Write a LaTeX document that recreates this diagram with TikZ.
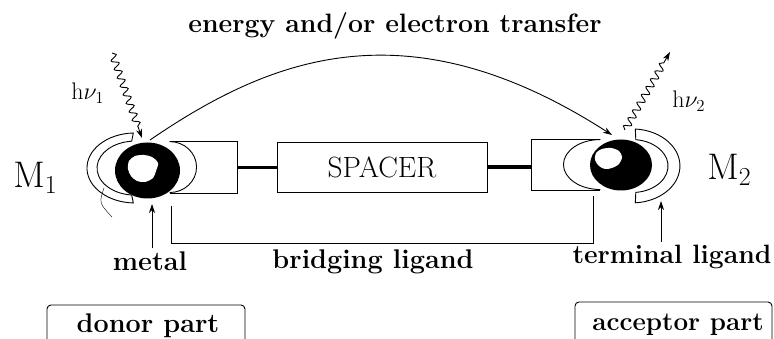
\RequirePackage{fix-cm}
\documentclass[tikz,border=0pt]{standalone}
\usepackage{amsmath,amssymb}
\usepackage{tikz}
\usetikzlibrary{arrows.meta,decorations.pathmorphing}

\tikzset{
  lbl/.style={font=\fontsize{27}{30}\selectfont\bfseries},
  wave/.style={->,decorate,decoration={snake,amplitude=3.5pt,segment length=9pt,post length=9pt}},
  band/.style={draw,fill=white,line width=0.9pt},
}

\begin{document}
\begin{tikzpicture}[x=1pt,y=-1pt,line width=0.9pt,>={Stealth[length=9pt,width=6pt]}]
\useasboundingbox (0,0) rectangle (774,339);
\node[lbl,anchor=base,font=\fontsize{26.6}{30}\selectfont\bfseries] (title) at (395,33) {energy and/or electron transfer};
\node[draw,minimum width=210pt,minimum height=50pt,font=\fontsize{29.3}{32}\selectfont] (spacer) at (382,167) {SPACER};
\node[minimum width=67pt,minimum height=51pt,inner sep=0] (ligL) at (203.5,167.5) {};
\node[minimum width=68pt,minimum height=50pt,inner sep=0] (ligR) at (566,165) {};
\draw (ligL.north west) -- (ligL.north east) -- (ligL.south east) -- (ligL.south west);
\draw (ligL.north west) arc[start angle=90,end angle=-90,x radius=27pt,y radius=25.5pt];
\draw (ligR.north east) -- (ligR.north west) -- (ligR.south west) -- (ligR.south east);
\draw (ligR.north east) arc[start angle=90,end angle=270,x radius=37pt,y radius=25pt];
\draw[line width=3.5pt] (ligL.east) -- (ligL.east -| spacer.west);
\draw[line width=3.5pt] (spacer.east) -- (spacer.east -| ligR.west);
\coordinate (m1) at (147.5,170.5);
\coordinate (m2) at (621,165);
\fill (m1) ellipse[x radius=32.5pt,y radius=28pt];
\fill (m2) ellipse[x radius=31pt,y radius=25.5pt];
\fill[white] plot[smooth cycle] coordinates {(129,161) (135,156) (144,155) (152,157) (158,163) (156,171) (153,178) (145,182) (137,181) (131,176) (128,169)};
\fill[white] plot[smooth cycle] coordinates {(596,153) (602,149) (611,148) (619,151) (622,157) (619,164) (612,168) (605,169) (599,166) (595,160)};
\draw[band] (133.3,133) arc[start angle=92,end angle=268,x radius=48pt,y radius=35pt] -- (131.7,195) arc[start angle=265,end angle=95,x radius=38pt,y radius=27pt] -- cycle;
\draw[band] (635.3,129) arc[start angle=86,end angle=-86,x radius=48pt,y radius=37pt] -- (635.8,192.4) arc[start angle=-84,end angle=84,x radius=36pt,y radius=26.5pt] -- cycle;
\draw[line width=0.4pt] (104,188) .. controls (99,203) .. (112,217);
\coordinate (arcL) at (150,140);
\coordinate (arcR) at (612,135);
\draw[->] (arcL) .. controls (270,58) and (407,3) .. (arcR);
\coordinate (inL) at (112,53);
\coordinate (tipL) at (142,138);
\draw[wave] (inL) -- (tipL);
\coordinate (outR) at (625,130);
\coordinate (tipR) at (670,52);
\draw[wave] (outR) -- (tipR);
\node[font=\fontsize{24}{28}\selectfont,anchor=base west,inner sep=0] (hv1) at (71,100) {$\mathrm{h}\nu_1$};
\node[font=\fontsize{24}{28}\selectfont,anchor=base west,inner sep=0] (hv2) at (672,108) {$\mathrm{h}\nu_2$};
\node[font=\fontsize{37}{42}\selectfont,anchor=base west,inner sep=0] (M1) at (13,188) {$\mathrm{M}_1$};
\node[font=\fontsize{37}{42}\selectfont,anchor=base west,inner sep=0] (M2) at (707,180) {$\mathrm{M}_2$};
\node[lbl,anchor=base] (metal) at (150,271) {metal};
\node[lbl,anchor=base] (bridge) at (373,269) {bridging ligand};
\node[lbl,anchor=base,font=\fontsize{26.5}{30}\selectfont\bfseries] (term) at (672,264) {terminal ligand};
\coordinate (metTip) at (152,204);
\coordinate (termTip) at (661,201);
\draw[->] (metal.north -| metTip) -- (metTip);
\draw[->] (term.north -| termTip) -- (termTip);
\coordinate (brL) at (171,206);
\coordinate (brR) at (593,196);
\coordinate (brB) at (593,243);
\draw (brL) |- (brB) -- (brR);
\node[lbl,anchor=base] (donor) at (148,332) {donor part};
\node[lbl,anchor=base,font=\fontsize{26}{30}\selectfont\bfseries] (acceptor) at (678,330) {acceptor part};
\draw[rounded corners=4pt] (47,339) -- (47,305) -- (245,305) -- (245,339);
\draw[rounded corners=4pt] (575,339) -- (575,302) -- (772,302) -- (772,339);
\end{tikzpicture}
\end{document}
